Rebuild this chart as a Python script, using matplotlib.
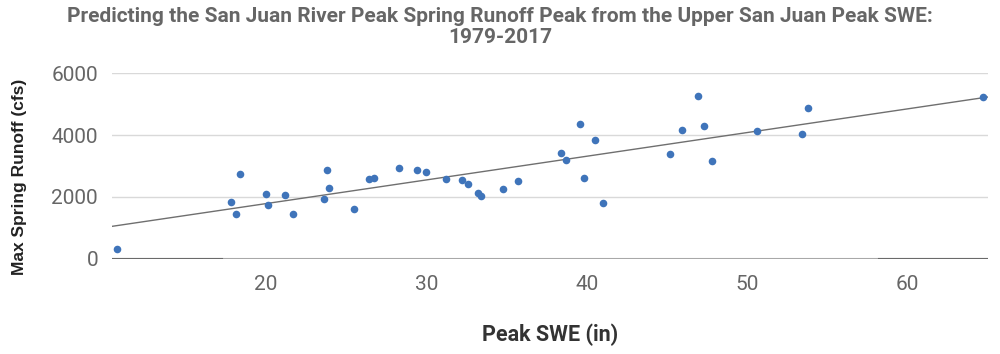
from matplotlib import pyplot as plt
import numpy as np

# peak SWE (in) and max spring runoff (cfs)
peak_swe = [10.7, 17.8, 18.1, 18.4, 20.0, 20.1, 21.2, 21.7, 23.6, 23.8, 23.9,
            25.5, 26.4, 26.7, 28.3, 29.4, 30.0, 31.2, 32.2, 32.6, 33.2, 33.4,
            34.8, 35.7, 38.4, 38.7, 39.6, 39.8, 40.5, 41.0, 45.2, 45.9, 46.9,
            47.3, 47.8, 50.6, 53.4, 53.8, 64.7]
max_runoff = [300, 1850, 1450, 2730, 2090, 1730, 2070, 1440, 1920, 2880, 2280,
              1610, 2580, 2610, 2940, 2870, 2790, 2590, 2560, 2410, 2130, 2030,
              2240, 2500, 3420, 3200, 4370, 2600, 3840, 1790, 3380, 4150, 5250,
              4280, 3170, 4120, 4020, 4890, 5220]
x_ticks = [20, 30, 40, 50, 60]
y_ticks = [0, 2000, 4000, 6000]

def make_chart():
    plt.rcParams['font.family'] = ['Roboto', 'DejaVu Sans']
    fig = plt.figure(figsize=(10, 3.54), dpi=100)
    ax = fig.add_axes([0.112, 0.2692, 0.876, 0.524])

    #trend line from a least squares fit
    slope, intercept = np.polyfit(peak_swe, max_runoff, 1)
    x_lo, x_hi = 10.4, 65.0
    ax.plot([x_lo, x_hi], [slope * x_lo + intercept, slope * x_hi + intercept],
            color='#6f6f6f', linewidth=1.0, zorder=3)

    ax.scatter(peak_swe, max_runoff, s=30, color='#3f74ba', zorder=4,
               linewidths=0)

    ax.set_xlim(x_lo, x_hi)
    ax.set_ylim(0, 6000)
    ax.set_xticks(x_ticks)
    ax.set_yticks(y_ticks)
    ax.tick_params(axis='both', length=0, labelsize=15, labelcolor='#666666')
    ax.tick_params(axis='x', pad=12)
    ax.tick_params(axis='y', pad=10)

    for s in ax.spines.values():
        s.set_visible(False)
    ax.grid(axis='y', color='#d9d9d9', linewidth=1.0)
    ax.set_axisbelow(True)
    ax.axhline(0, color='#a8a8a8', linewidth=1.5, zorder=2)
    ax.axhline(0, xmin=0, xmax=0.126, color='#6a6a6a', linewidth=1.5, zorder=2)
    ax.axhline(0, xmin=0.876, xmax=1, color='#6a6a6a', linewidth=1.5, zorder=2)

    ax.set_xlabel('Peak SWE (in)', fontsize=15.5, fontweight='bold',
                  color='#333333')
    ax.xaxis.set_label_coords(0.5, -0.35)
    ax.set_ylabel('Max Spring Runoff (cfs)', fontsize=12.5, fontweight='bold',
                  color='#222222', family=['Liberation Sans', 'DejaVu Sans'])
    ax.yaxis.set_label_coords(-0.097, 0.44)
    fig.suptitle('Predicting the San Juan River Peak Spring Runoff Peak from the Upper San Juan Peak SWE:\n1979-2017',
                 x=0.5, y=0.98, fontsize=15, fontweight='bold', color='#666666',
                 linespacing=1.1)

    fig.savefig('out.png', dpi=100)

def main():
    make_chart()

if __name__ == "__main__":
    main()
